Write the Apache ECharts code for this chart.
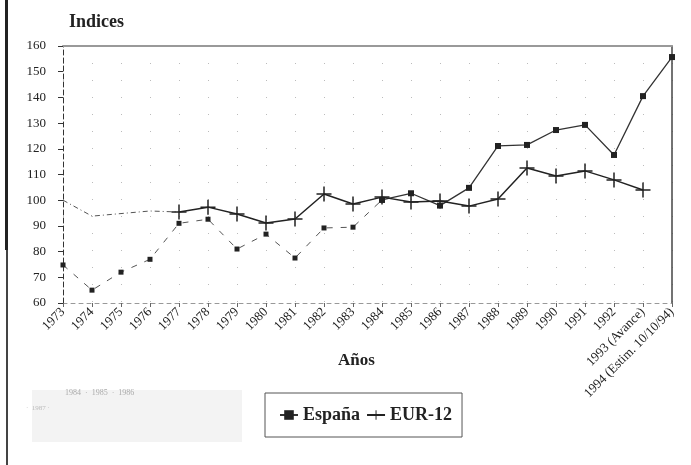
<!DOCTYPE html>
<html>
<head>
<meta charset="utf-8">
<script src="https://cdn.jsdelivr.net/npm/echarts@6/dist/echarts.min.js"></script>
<style>
    html, body { margin: 0; padding: 0; background: #fff; }
    #chart { width: 691px; height: 465px; }
</style>
</head>
<body>
<div id="chart"></div>
<script>
// años del eje X
const years = ['1973', '1974', '1975', '1976', '1977', '1978', '1979', '1980', '1981', '1982',
    '1983', '1984', '1985', '1986', '1987', '1988', '1989', '1990', '1991', '1992',
    '1993 (Avance)', '1994 (Estim. 10/10/94)']

// índices
const espana = [74.8, 65, 72, 77, 91, 92.6, 81, 86.8, 77.5, 89.2, 89.5,
    100.1, 102.7, 97.9, 104.8, 121.1, 121.5, 127.3, 129.3, 117.6, 140.5, 155.7]
const eur12 = [100, 93.8, 94.8, 95.8, 95.4, 97.3, 94.6, 91.1, 92.7, 102.4, 98.5,
    101.2, 99.3, 99.7, 97.7, 100.5, 112.5, 109.4, 111.4, 107.9, 104, null]

const yTicks = [60, 70, 80, 90, 100, 110, 120, 130, 140, 150, 160]

// tramo punteado (escaneo pobre) y tramo continuo
const espanaEarlyEnd = 11
const eurEarlyEnd = 4
const espanaEarly = espana.map((v, i) => i <= espanaEarlyEnd ? v : null)
const espanaLate = espana.map((v, i) => i >= espanaEarlyEnd ? v : null)
const eurEarly = eur12.map((v, i) => i <= eurEarlyEnd ? v : null)
const eurLate = eur12.map((v, i) => i >= eurEarlyEnd ? v : null)

const serif = '"Liberation Serif", "DejaVu Serif", serif'
const cross = 'path://M9,0h2v9h9v2h-9v9h-2v-9h-9v-2h9z'

const chart = echarts.init(document.getElementById('chart'))

const option = {
    animation: false,
    backgroundColor: '#fff',
    textStyle: { fontFamily: serif, color: '#222' },
    title: {
        text: 'Indices',
        left: 64,
        top: 8,
        textStyle: { fontFamily: serif, fontSize: 18, fontWeight: 'bold', color: '#222' }
    },
    grid: { left: 63, right: 19, top: 46, bottom: 162 },
    legend: {
        data: ['España', 'EUR-12'],
        left: 265,
        top: 393,
        width: 207,
        padding: [13, 10, 13, 14],
        itemGap: 6,
        itemWidth: 18,
        itemHeight: 12,
        borderColor: '#555',
        borderWidth: 1,
        textStyle: { fontFamily: serif, fontSize: 18, fontWeight: 'bold', color: '#222' }
    },
    xAxis: [
        {
            type: 'category',
            data: years,
            boundaryGap: false,
            axisLine: { lineStyle: { color: '#999', type: [4, 4], width: 1 } },
            axisTick: { show: true, alignWithLabel: true, length: 4, lineStyle: { color: '#666' } },
            axisLabel: { rotate: 45, fontFamily: serif, fontSize: 13, color: '#222', margin: 7, interval: 0 },
            splitLine: { show: true, lineStyle: { color: '#bbb', type: [1, 16], width: 1 } }
        },
        {
            type: 'category',
            data: years,
            boundaryGap: false,
            position: 'top',
            axisLine: { lineStyle: { color: '#999', width: 2 } },
            axisTick: { show: false },
            axisLabel: { show: false }
        }
    ],
    yAxis: [
        {
            type: 'value',
            min: 60,
            max: 160,
            interval: 10,
            axisLine: { show: true, lineStyle: { color: '#333', type: [5, 3], width: 1 } },
            axisTick: { show: true, length: 5, lineStyle: { color: '#333' } },
            axisLabel: {
                fontFamily: serif, fontSize: 13, color: '#222', margin: 17,
                formatter: v => yTicks.includes(v) ? String(v) : ''
            },
            splitLine: { show: false }
        },
        {
            type: 'value',
            min: 60,
            max: 160,
            interval: 10,
            position: 'right',
            axisLine: { show: true, lineStyle: { color: '#444', width: 1.5 } },
            axisTick: { show: false },
            axisLabel: { show: false },
            splitLine: { show: false }
        }
    ],
    series: [
        {
            name: 'España (tramo)',
            type: 'line',
            data: espanaEarly,
            symbol: 'rect',
            symbolSize: 5,
            itemStyle: { color: '#222' },
            lineStyle: { color: '#555', width: 1, type: [6, 8] }
        },
        {
            name: 'EUR-12 (tramo)',
            type: 'line',
            data: eurEarly,
            showSymbol: false,
            itemStyle: { color: '#222' },
            lineStyle: { color: '#555', width: 1, type: [5, 3, 1, 3] }
        },
        {
            name: 'España',
            type: 'line',
            data: espanaLate,
            symbol: 'rect',
            symbolSize: 6,
            itemStyle: { color: '#222' },
            lineStyle: { color: '#333', width: 1.3 }
        },
        {
            name: 'EUR-12',
            type: 'line',
            data: eurLate,
            symbol: cross,
            symbolSize: 15,
            itemStyle: { color: '#222' },
            lineStyle: { color: '#222', width: 1.5 }
        }
    ],
    graphic: [
        // título del eje X
        { type: 'text', left: 338, top: 352, style: { text: 'Años', fill: '#222', font: 'bold 17px ' + serif } },
        // borde del escaneo a la izquierda
        { type: 'rect', shape: { x: 5, y: 0, width: 3, height: 250 }, style: { fill: '#222' } },
        { type: 'rect', shape: { x: 6, y: 250, width: 2, height: 215 }, style: { fill: '#444' } },
        // restos grises de la fotocopia
        { type: 'rect', shape: { x: 32, y: 390, width: 210, height: 52 }, style: { fill: '#f3f3f3' } },
        { type: 'text', left: 65, top: 389, style: { text: '1984  ·  1985  ·  1986', fill: '#aaa', font: '8px ' + serif } },
        { type: 'text', left: 26, top: 405, style: { text: '·  1987 ·', fill: '#bbb', font: '7px ' + serif } }
    ]
}

chart.setOption(option)
</script>
</body>
</html>
